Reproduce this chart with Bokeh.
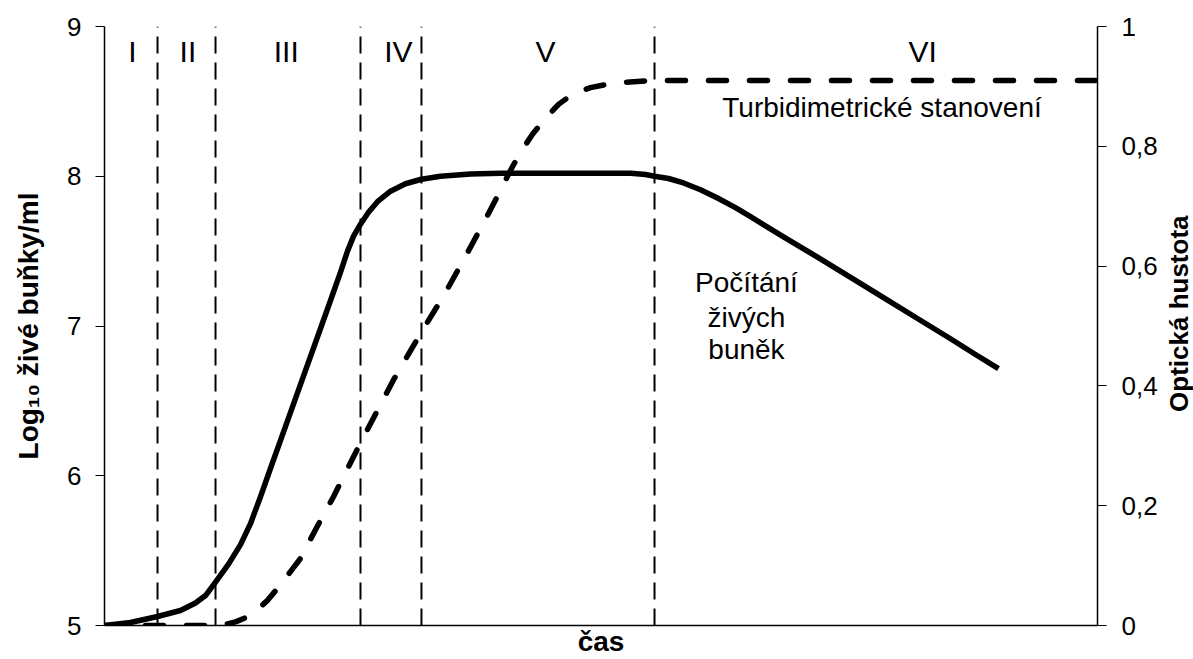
import math
from bokeh.plotting import figure
from bokeh.layouts import row
from bokeh.models import Range1d, LinearAxis, FixedTicker, Label
from bokeh.embed import file_html
from bokeh.resources import INLINE

# ---- data (time in arbitrary units 0..100) ----
count_t = [0, 2.62, 5.34, 7.65, 9.16, 10.17, 11.18, 12.49, 13.70, 14.70,
           15.71, 16.72, 18.23, 19.74, 21.25, 22.76, 23.77, 24.47, 25.08, 25.78,
           26.59, 27.49, 28.80, 30.31, 31.92, 33.84, 36.86, 39.88, 44.91, 49.95,
           52.97, 54.48, 55.39, 56.80, 58.31, 60.02, 61.73, 63.54, 65.06, 68.38,
           71.80, 75.13, 78.45, 81.87, 85.20, 87.71, 90.03]
count_log = [5.00, 5.02, 5.06, 5.10, 5.15, 5.20, 5.29, 5.41, 5.54, 5.68,
             5.86, 6.05, 6.33, 6.61, 6.89, 7.17, 7.36, 7.50, 7.60, 7.68,
             7.76, 7.83, 7.90, 7.95, 7.98, 8.00, 8.015, 8.02, 8.02, 8.02,
             8.02, 8.012, 8.00, 7.985, 7.955, 7.91, 7.855, 7.79, 7.73, 7.595,
             7.46, 7.325, 7.19, 7.05, 6.915, 6.81, 6.715]

od_t = [0, 11.18, 12.19, 13.19, 14.20, 15.21, 16.42, 17.72, 18.73, 19.74,
        21.25, 23.06, 25.78, 29.10, 31.92, 34.14, 36.15, 38.17, 39.58, 40.89,
        41.89, 43.10, 44.21, 45.72, 47.23, 48.94, 50.45, 52.47, 55.39, 100]
od_val = [0.0, 0.0, 0.002, 0.006, 0.013, 0.024, 0.042, 0.068, 0.09, 0.112,
          0.16, 0.215, 0.305, 0.41, 0.49, 0.55, 0.61, 0.672, 0.717, 0.76,
          0.79, 0.82, 0.843, 0.87, 0.888, 0.898, 0.903, 0.907, 0.91, 0.91]

phase_bounds = [5.34, 11.18, 25.78, 31.92, 55.39]
phase_names = ["I", "II", "III", "IV", "V", "VI"]
phase_label_t = [2.8, 8.4, 18.3, 29.6, 44.4, 82.4]

left_ticks = [5, 6, 7, 8, 9]
right_ticks = [0, 0.2, 0.4, 0.6, 0.8, 1.0]
right_tick_labels = ["0", "0,2", "0,4", "0,6", "0,8", "1"]

FONT = "Liberation Sans"

p = figure(width=1164, height=659, output_backend="svg", toolbar_location=None,
           x_range=Range1d(0, 100), y_range=Range1d(5, 9),
           min_border_left=104, min_border_right=67, min_border_top=26, min_border_bottom=33)
p.extra_y_ranges = {"od": Range1d(0, 1)}
p.outline_line_color = None
p.xgrid.visible = False
p.ygrid.visible = False
p.background_fill_color = "white"
p.border_fill_color = "white"

# x axis (line + title only)
xa = p.xaxis[0]
xa.ticker = FixedTicker(ticks=[])
xa.major_tick_out = 0
xa.major_tick_in = 0
xa.minor_tick_out = 0
xa.axis_label = "čas"
xa.axis_label_text_font = FONT
xa.axis_label_text_font_style = "bold"
xa.axis_label_text_font_size = "28px"
xa.axis_label_text_color = "black"
xa.axis_label_standoff = 0
xa.axis_line_color = "black"
xa.axis_line_width = 1.5

# left axis
ya = p.yaxis[0]
ya.ticker = FixedTicker(ticks=left_ticks)
ya.major_tick_out = 9
ya.major_tick_in = 0
ya.minor_tick_out = 0
ya.minor_tick_in = 0
ya.major_label_text_font = FONT
ya.major_label_text_font_size = "26px"
ya.major_label_text_color = "black"
ya.major_label_standoff = 14
ya.axis_label = "Log₁₀ živé buňky/ml"
ya.axis_label_text_font = FONT
ya.axis_label_text_font_style = "bold"
ya.axis_label_text_font_size = "28px"
ya.axis_label_text_color = "black"
ya.axis_label_standoff = 20
ya.axis_line_color = "black"
ya.axis_line_width = 1.5
ya.major_tick_line_color = "black"

# right axis
ra = LinearAxis(y_range_name="od", ticker=FixedTicker(ticks=right_ticks))
ra.major_label_overrides = {v: s for v, s in zip(right_ticks, right_tick_labels)}
ra.major_tick_out = 9
ra.major_tick_in = 0
ra.minor_tick_out = 0
ra.minor_tick_in = 0
ra.major_label_text_font = FONT
ra.major_label_text_font_size = "26px"
ra.major_label_text_color = "black"
ra.major_label_standoff = 15
ra.axis_line_color = "black"
ra.axis_line_width = 1.5
ra.major_tick_line_color = "black"
p.add_layout(ra, "right")

# phase boundaries
p.segment(x0=phase_bounds, y0=[5] * len(phase_bounds), x1=phase_bounds, y1=[9] * len(phase_bounds),
          line_color="black", line_width=2, line_dash="17 9")

# curves
p.line(od_t, od_val, y_range_name="od", line_color="black", line_width=5.5,
       line_dash="18 23", line_cap="round", line_join="round")
p.line(count_t, count_log, line_color="black", line_width=5.5, line_join="round")

# phase names
for t, name in zip(phase_label_t, phase_names):
    p.add_layout(Label(x=t, y=8.83, text=name, text_align="center", text_baseline="middle",
                       text_font=FONT, text_font_size="30px", text_color="black"))

p.add_layout(Label(x=78.3, y=8.46, text="Turbidimetrické stanovení", text_align="center",
                   text_baseline="middle", text_font=FONT, text_font_size="28px", text_color="black"))
for txt, yv in zip(["Počítání", "živých", "buněk"], [7.29, 7.06, 6.84]):
    p.add_layout(Label(x=64.65, y=yv, text=txt, text_align="center", text_baseline="middle",
                       text_font=FONT, text_font_size="28px", text_color="black"))

# narrow strip to the right holding the right-axis title (reads bottom to top)
p2 = figure(width=29, height=659, output_backend="svg", toolbar_location=None,
            x_range=Range1d(0, 29), y_range=Range1d(0, 659),
            x_axis_type=None, y_axis_type=None,
            min_border_left=0, min_border_right=0, min_border_top=0, min_border_bottom=0)
p2.outline_line_color = None
p2.background_fill_color = "white"
p2.border_fill_color = "white"
p2.add_layout(Label(x=14, y=343, text="Optická hustota", angle=math.pi / 2,
                    text_align="center", text_baseline="middle", text_font=FONT,
                    text_font_style="bold", text_font_size="26px", text_color="black"))

layout = row(p, p2)
open("out.html", "w").write(file_html(layout, INLINE))
